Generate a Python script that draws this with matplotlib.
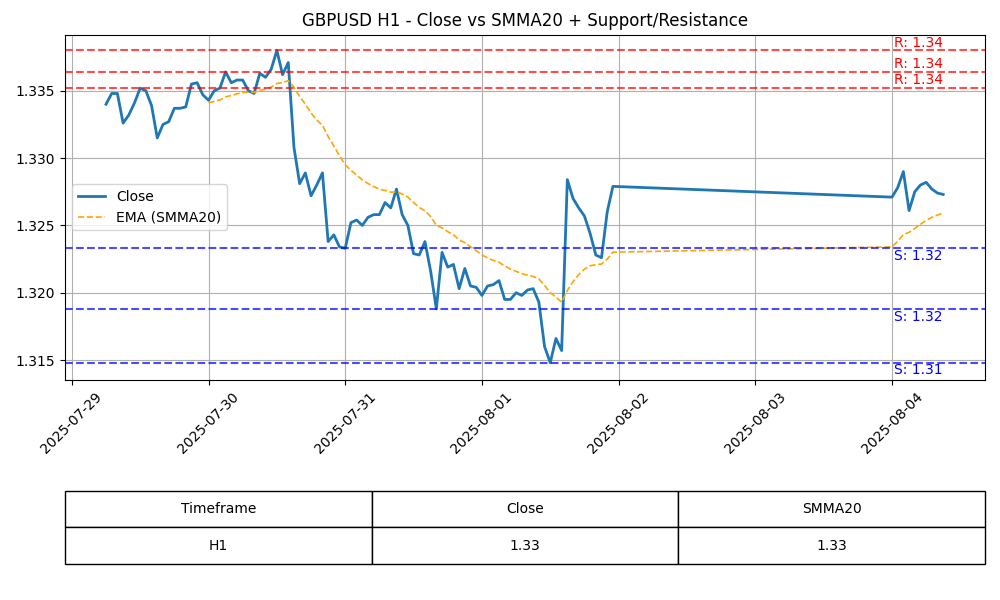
import matplotlib
matplotlib.use("Agg")
import matplotlib.pyplot as plt
import matplotlib.dates as mdates
import pandas as pd
import numpy as np

close_week = [1.3340,1.3348,1.3348,1.3326,1.3332,1.3341,1.3352,1.3350,1.3339,1.3315,
              1.3325,1.3327,1.3337,1.3337,1.3338,1.3355,1.3356,1.3347,1.3343,1.3350,
              1.3352,1.3364,1.3356,1.3358,1.3358,1.3350,1.3348,1.3363,1.3360,1.3366,
              1.3380,1.3362,1.3371,1.3308,1.3281,1.3289,1.3272,1.3280,1.3289,1.3238,
              1.3243,1.3234,1.3233,1.3252,1.3254,1.3250,1.3256,1.3258,1.3258,1.3267,
              1.3263,1.3277,1.3258,1.3250,1.3229,1.3228,1.3238,1.3216,1.3188,1.3230,
              1.3219,1.3221,1.3203,1.3218,1.3205,1.3204,1.3198,1.3205,1.3206,1.3209,
              1.3195,1.3195,1.3200,1.3198,1.3202,1.3203,1.3193,1.3160,1.3148,1.3166,
              1.3157,1.3284,1.3270,1.3263,1.3257,1.3244,1.3228,1.3226,1.3260,1.3279]
close_mon = [1.3271,1.3278,1.3290,1.3261,1.3275,1.3280,1.3282,1.3277,1.3274,1.3273]
resistance = [1.3380, 1.3364, 1.3352]
support = [1.3233, 1.3188, 1.3148]
headers = ["Timeframe", "Close", "SMMA20"]
row = ["H1", "1.33", "1.33"]

t1 = pd.date_range("2025-07-29 06:00", periods=len(close_week), freq="h")
t2 = pd.date_range("2025-08-04 00:00", periods=len(close_mon), freq="h")
s = pd.Series(close_week + close_mon, index=t1.append(t2))
smma = s.ewm(span=20, adjust=True, min_periods=19).mean()

fig = plt.figure(figsize=(10, 6), dpi=100)
ax = fig.add_axes([0.065, 0.367, 0.92, 0.575])
ax.plot(s.index, s.values, lw=2, color="#1f77b4", label="Close")
ax.plot(smma.index, smma.values, "--", color="orange", lw=1.2, label="EMA (SMMA20)")
xt = pd.Timestamp("2025-08-04 00:20")
for r in resistance:
    ax.axhline(r, color="red", ls="--", alpha=0.7)
    ax.text(xt, r + 0.00005, f"R: {r:.2f}", color="red", va="bottom")
for sp in support:
    ax.axhline(sp, color="blue", ls="--", alpha=0.7)
    ax.text(xt, sp - 0.00005, f"S: {sp:.2f}", color="blue", va="top")
ax.set_xlim(pd.Timestamp("2025-07-28 22:48"), pd.Timestamp("2025-08-04 16:20"))
ax.set_ylim(1.31353, 1.33916)
ax.xaxis.set_major_locator(mdates.DayLocator())
ax.xaxis.set_major_formatter(mdates.DateFormatter("%Y-%m-%d"))
plt.setp(ax.get_xticklabels(), rotation=45)
ax.grid(True)
ax.legend(loc="center left")
ax.set_title("GBPUSD H1 - Close vs SMMA20 + Support/Resistance")

tax = fig.add_axes([0.065, 0.06, 0.92, 0.122])
tax.axis("off")
tb = tax.table(cellText=[headers, row], cellLoc="center", bbox=[0, 0, 1, 1])
fig.savefig("out.png")
